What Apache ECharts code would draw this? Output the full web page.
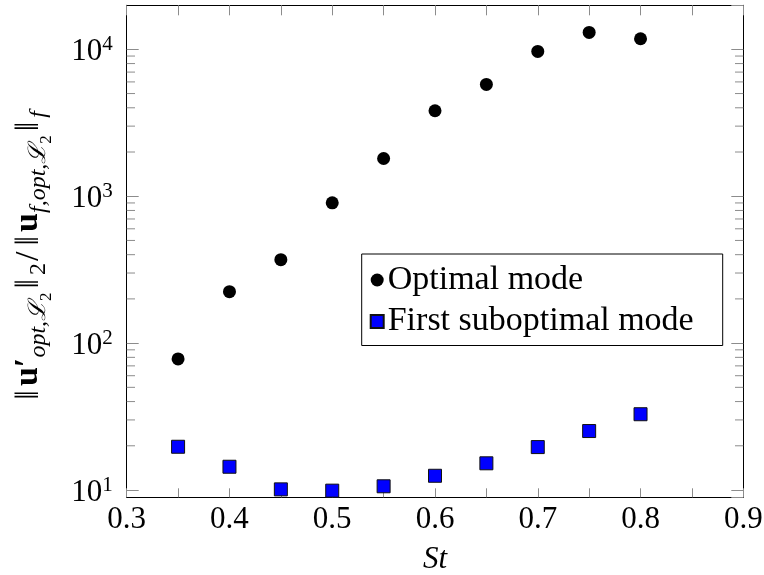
<!DOCTYPE html>
<html>
<head>
<meta charset="utf-8">
<script src="https://cdn.jsdelivr.net/npm/echarts@6/dist/echarts.min.js"></script>
<style>
html,body{margin:0;padding:0;background:#fff;}
#chart{width:764px;height:575px;}
</style>
</head>
<body>
<div id="chart"></div>
<script>
// ---- data ----
const stValues = [0.35, 0.40, 0.45, 0.50, 0.55, 0.60, 0.65, 0.70, 0.75, 0.80];
const optimalMode = [78, 224, 370, 902, 1806, 3819, 5770, 9680, 13030, 11800];
const firstSuboptimalMode = [19.7, 14.4, 10.1, 9.9, 10.6, 12.5, 15.2, 19.6, 25.2, 32.8];
const seriesNames = ['Optimal mode', 'First suboptimal mode'];
const xTickLabels = ['0.3', '0.4', '0.5', '0.6', '0.7', '0.8', '0.9'];
const yMinorTicks = [20, 30, 40, 50, 60, 70, 80, 90,
                     200, 300, 400, 500, 600, 700, 800, 900,
                     2000, 3000, 4000, 5000, 6000, 7000, 8000, 9000];

const FONT = 'Liberation Serif';
const TICK = '#8c8c8c';

const chart = echarts.init(document.getElementById('chart'), null, {renderer: 'canvas'});

const xLabelFmt = v => {
  const s = v.toFixed(1);
  return (Math.abs(v * 10 - Math.round(v * 10)) < 1e-6 && xTickLabels.indexOf(s) >= 0) ? s : '';
};
const yLabelFmt = v => {
  const l = Math.log10(v);
  const e = Math.round(l);
  if (Math.abs(l - e) > 1e-6) return '';
  return '{a|10}{b|' + e + '}';
};

const yName = '{m|‖}{b|u′}{s|opt,}{l|ℒ}{ss|2}{m|‖}{n|2}{d|/}{m|‖}{b|u}{s|f,opt,}{l|ℒ}{ss|2}{m|‖}{s|f}';

const option = {
  backgroundColor: '#fff',
  animation: false,
  textStyle: {fontFamily: FONT},
  grid: {left: 126.7, right: 20.7, top: 5.3, bottom: 77.7, outerBoundsMode: 'none'},
  legend: {
    data: seriesNames,
    orient: 'vertical',
    left: 361.7,
    top: 254,
    padding: [9, 29, 7, 8],
    itemGap: 7.5,
    itemWidth: 13,
    itemHeight: 13,
    borderColor: '#000',
    borderWidth: 1,
    borderRadius: 0,
    backgroundColor: '#fff',
    textStyle: {fontFamily: FONT, fontSize: 34, color: '#000', lineHeight: 32, padding: [0, 0, 0, -1]},
    selectedMode: false
  },
  xAxis: [{
    type: 'value', position: 'bottom', min: 0.3, max: 0.9, interval: 0.05,
    name: 'St', nameLocation: 'middle', nameGap: 48,
    nameTextStyle: {fontFamily: FONT, fontSize: 31, fontStyle: 'italic', color: '#000', lineHeight: 30},
    axisLine: {show: true, onZero: false, lineStyle: {color: '#000', width: 1}},
    axisTick: {show: true, inside: true, length: 9, lineStyle: {color: TICK, width: 1}},
    axisLabel: {show: true, formatter: xLabelFmt, margin: 8, fontFamily: FONT, fontSize: 31, color: '#000', lineHeight: 30},
    splitLine: {show: false}
  }, {
    type: 'value', position: 'top', min: 0.3, max: 0.9, interval: 0.05,
    axisLine: {show: true, onZero: false, lineStyle: {color: '#000', width: 1}},
    axisTick: {show: true, inside: true, length: 10, lineStyle: {color: TICK, width: 1}},
    axisLabel: {show: false},
    splitLine: {show: false}
  }],
  yAxis: [{
    type: 'log', logBase: 10, position: 'left', min: 8.92, max: 19940,
    name: yName, nameLocation: 'middle', nameGap: 81, nameRotate: 90,
    nameTextStyle: {
      fontFamily: FONT, color: '#000', padding: [0, 12, 0, 0],
      rich: {
        m: {fontFamily: FONT, fontSize: 34, lineHeight: 34, padding: [0, 4, 0, 4], verticalAlign: 'top', color: '#000'},
        d: {fontFamily: FONT, fontSize: 34, lineHeight: 34, padding: [0, 2, 0, 2], verticalAlign: 'top', color: '#000'},
        b: {fontFamily: FONT, fontSize: 34, lineHeight: 34, fontWeight: 'bold', verticalAlign: 'top', color: '#000'},
        s: {fontFamily: FONT, fontSize: 24, lineHeight: 24, fontStyle: 'italic', padding: [15, 0, 0, 0], verticalAlign: 'top', color: '#000'},
        l: {fontFamily: FONT, fontSize: 24, lineHeight: 24, fontStyle: 'italic', padding: [15, 0, 0, 0], verticalAlign: 'top', color: '#000'},
        n: {fontFamily: FONT, fontSize: 24, lineHeight: 24, padding: [15, 0, 0, 0], verticalAlign: 'top', color: '#000'},
        ss: {fontFamily: FONT, fontSize: 17, lineHeight: 17, padding: [26, 0, 0, 0], verticalAlign: 'top', color: '#000'}
      }
    },
    axisLine: {show: true, onZero: false, lineStyle: {color: '#000', width: 1}},
    axisTick: {show: true, inside: true, length: 12, lineStyle: {color: TICK, width: 1}},
    axisLabel: {
      show: true, formatter: yLabelFmt, margin: 14, padding: [6, 0, 0, 0],
      showMinLabel: false, showMaxLabel: false, fontFamily: FONT,
      rich: {
        a: {fontFamily: FONT, fontSize: 31, lineHeight: 30, verticalAlign: 'bottom', color: '#000'},
        b: {fontFamily: FONT, fontSize: 21, lineHeight: 20, padding: [0, 0, 12, 0], verticalAlign: 'bottom', color: '#000'}
      }
    },
    splitLine: {show: false},
    minorTick: {show: false}
  }, {
    type: 'log', logBase: 10, position: 'right', min: 8.92, max: 19940,
    axisLine: {show: true, onZero: false, lineStyle: {color: '#000', width: 1}},
    axisTick: {show: true, inside: true, length: 12, lineStyle: {color: TICK, width: 1}},
    axisLabel: {show: false},
    splitLine: {show: false}
  }],
  series: [{
    name: seriesNames[0], type: 'scatter', xAxisIndex: 0, yAxisIndex: 0,
    symbol: 'circle', symbolSize: 13,
    itemStyle: {color: '#000', opacity: 1},
    data: stValues.map((x, i) => [x, optimalMode[i]]),
    z: 5
  }, {
    name: seriesNames[1], type: 'scatter', xAxisIndex: 0, yAxisIndex: 0,
    symbol: 'rect', symbolSize: 13,
    itemStyle: {color: '#0000ff', borderColor: '#111', borderWidth: 1, opacity: 1},
    data: stValues.map((x, i) => [x, firstSuboptimalMode[i]]),
    z: 5
  }, {
    name: 'minorTicks', type: 'custom', xAxisIndex: 0, yAxisIndex: 0, silent: true, z: 1,
    data: yMinorTicks.map(v => [0.3, v]),
    renderItem: (params, api) => {
      const y = api.coord([0.3, api.value(1)])[1];
      const cs = params.coordSys;
      const x0 = cs.x, x1 = cs.x + cs.width;
      return {type: 'group', children: [
        {type: 'line', shape: {x1: x0, y1: y, x2: x0 + 8.3, y2: y}, style: {stroke: TICK, lineWidth: 1}},
        {type: 'line', shape: {x1: x1 - 8.3, y1: y, x2: x1, y2: y}, style: {stroke: TICK, lineWidth: 1}}
      ]};
    }
  }]
};
chart.setOption(option);
</script>
</body>
</html>
